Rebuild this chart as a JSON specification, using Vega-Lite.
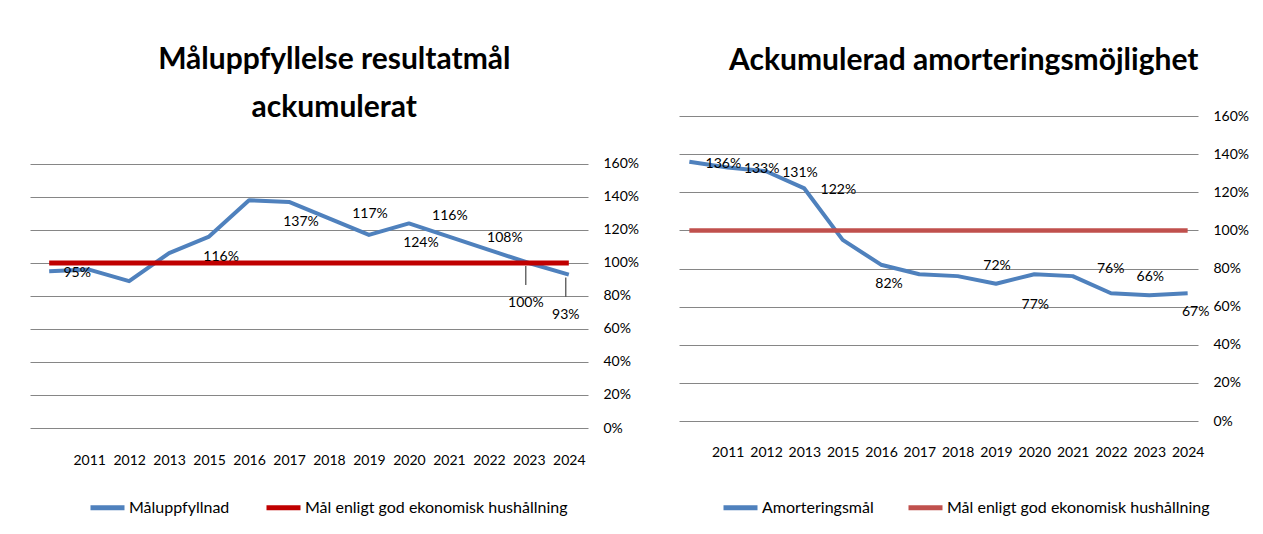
{
  "$schema": "https://vega.github.io/schema/vega-lite/v6.json",
  "background": "white",
  "padding": {"left": 30, "top": 45, "right": 0, "bottom": 0},
  "spacing": 40,
  "config": {
    "font": "Lato",
    "view": {"stroke": null},
    "axis": {"labelFont": "Lato", "labelFontSize": 14, "labelColor": "#000"},
    "legend": {"labelFont": "Lato", "labelFontSize": 16, "labelColor": "#000"},
    "title": {"font": "Lato", "fontWeight": "bold", "fontSize": 30, "color": "#000", "lineHeight": 48, "anchor": "middle", "frame": "bounds"},
    "text": {"font": "Lato", "fontSize": 14, "color": "#000"}
  },
  "resolve": {"scale": {"color": "independent", "x": "independent", "y": "independent"}, "legend": {"color": "independent"}},
  "datasets": {
    "left": [
      {"year": "2011", "series": "Måluppfyllnad", "value": 0.95},
      {"year": "2012", "series": "Måluppfyllnad", "value": 0.96},
      {"year": "2013", "series": "Måluppfyllnad", "value": 0.89},
      {"year": "2014", "series": "Måluppfyllnad", "value": 1.06},
      {"year": "2015", "series": "Måluppfyllnad", "value": 1.16},
      {"year": "2016", "series": "Måluppfyllnad", "value": 1.38},
      {"year": "2017", "series": "Måluppfyllnad", "value": 1.37},
      {"year": "2018", "series": "Måluppfyllnad", "value": 1.27},
      {"year": "2019", "series": "Måluppfyllnad", "value": 1.17},
      {"year": "2020", "series": "Måluppfyllnad", "value": 1.24},
      {"year": "2021", "series": "Måluppfyllnad", "value": 1.16},
      {"year": "2022", "series": "Måluppfyllnad", "value": 1.08},
      {"year": "2023", "series": "Måluppfyllnad", "value": 1.00},
      {"year": "2024", "series": "Måluppfyllnad", "value": 0.93},
      {"year": "2011", "series": "Mål enligt god ekonomisk hushållning", "value": 1.0},
      {"year": "2012", "series": "Mål enligt god ekonomisk hushållning", "value": 1.0},
      {"year": "2013", "series": "Mål enligt god ekonomisk hushållning", "value": 1.0},
      {"year": "2014", "series": "Mål enligt god ekonomisk hushållning", "value": 1.0},
      {"year": "2015", "series": "Mål enligt god ekonomisk hushållning", "value": 1.0},
      {"year": "2016", "series": "Mål enligt god ekonomisk hushållning", "value": 1.0},
      {"year": "2017", "series": "Mål enligt god ekonomisk hushållning", "value": 1.0},
      {"year": "2018", "series": "Mål enligt god ekonomisk hushållning", "value": 1.0},
      {"year": "2019", "series": "Mål enligt god ekonomisk hushållning", "value": 1.0},
      {"year": "2020", "series": "Mål enligt god ekonomisk hushållning", "value": 1.0},
      {"year": "2021", "series": "Mål enligt god ekonomisk hushållning", "value": 1.0},
      {"year": "2022", "series": "Mål enligt god ekonomisk hushållning", "value": 1.0},
      {"year": "2023", "series": "Mål enligt god ekonomisk hushållning", "value": 1.0},
      {"year": "2024", "series": "Mål enligt god ekonomisk hushållning", "value": 1.0}
    ],
    "right": [
      {"year": "2011", "series": "Amorteringsmål", "value": 1.36},
      {"year": "2012", "series": "Amorteringsmål", "value": 1.33},
      {"year": "2013", "series": "Amorteringsmål", "value": 1.31},
      {"year": "2014", "series": "Amorteringsmål", "value": 1.22},
      {"year": "2015", "series": "Amorteringsmål", "value": 0.95},
      {"year": "2016", "series": "Amorteringsmål", "value": 0.82},
      {"year": "2017", "series": "Amorteringsmål", "value": 0.77},
      {"year": "2018", "series": "Amorteringsmål", "value": 0.76},
      {"year": "2019", "series": "Amorteringsmål", "value": 0.72},
      {"year": "2020", "series": "Amorteringsmål", "value": 0.77},
      {"year": "2021", "series": "Amorteringsmål", "value": 0.76},
      {"year": "2022", "series": "Amorteringsmål", "value": 0.67},
      {"year": "2023", "series": "Amorteringsmål", "value": 0.66},
      {"year": "2024", "series": "Amorteringsmål", "value": 0.67},
      {"year": "2011", "series": "Mål enligt god ekonomisk hushållning", "value": 1.0},
      {"year": "2012", "series": "Mål enligt god ekonomisk hushållning", "value": 1.0},
      {"year": "2013", "series": "Mål enligt god ekonomisk hushållning", "value": 1.0},
      {"year": "2014", "series": "Mål enligt god ekonomisk hushållning", "value": 1.0},
      {"year": "2015", "series": "Mål enligt god ekonomisk hushållning", "value": 1.0},
      {"year": "2016", "series": "Mål enligt god ekonomisk hushållning", "value": 1.0},
      {"year": "2017", "series": "Mål enligt god ekonomisk hushållning", "value": 1.0},
      {"year": "2018", "series": "Mål enligt god ekonomisk hushållning", "value": 1.0},
      {"year": "2019", "series": "Mål enligt god ekonomisk hushållning", "value": 1.0},
      {"year": "2020", "series": "Mål enligt god ekonomisk hushållning", "value": 1.0},
      {"year": "2021", "series": "Mål enligt god ekonomisk hushållning", "value": 1.0},
      {"year": "2022", "series": "Mål enligt god ekonomisk hushållning", "value": 1.0},
      {"year": "2023", "series": "Mål enligt god ekonomisk hushållning", "value": 1.0},
      {"year": "2024", "series": "Mål enligt god ekonomisk hushållning", "value": 1.0}
    ]
  },
  "hconcat": [
    {
      "width": 558,
      "height": 312,
      "title": {"text": ["Måluppfyllelse resultatmål", "ackumulerat"], "offset": -7},
      "data": {"name": "left"},
      "encoding": {
        "x": {
          "field": "year", "type": "ordinal",
          "scale": {"type": "point", "padding": 0.48},
          "axis": {
            "title": null, "labelAngle": 0, "domain": false, "ticks": false, "labelPadding": 25,
            "values": ["2012", "2013", "2014", "2015", "2016", "2017", "2018", "2019", "2020", "2021", "2022", "2023", "2024"],
            "labelExpr": "datum.value == '2012' ? '2011' : datum.value == '2013' ? '2012' : datum.value == '2014' ? '2013' : datum.value"
          }
        },
        "y": {
          "field": "value", "type": "quantitative",
          "scale": {"domain": [0, 1.8909], "nice": false, "zero": true},
          "axis": {
            "orient": "right", "title": null, "values": [0, 0.2, 0.4, 0.6, 0.8, 1.0, 1.2, 1.4, 1.6],
            "format": ".0%", "grid": true, "gridColor": "#868686", "gridWidth": 1,
            "domain": false, "ticks": false, "labelPadding": 15
          }
        }
      },
      "layer": [
        {
          "transform": [{"filter": "datum.series == 'Måluppfyllnad'"}],
          "mark": {"type": "line", "strokeWidth": 4, "strokeJoin": "round"},
          "encoding": {
            "color": {
              "field": "series", "type": "nominal",
              "scale": {"domain": ["Måluppfyllnad", "Mål enligt god ekonomisk hushållning"], "range": ["#4F81BD", "#C00000"]},
              "legend": {"orient": "none", "legendX": 58, "legendY": 372, "direction": "horizontal", "title": null,
                "symbolType": "stroke", "symbolSize": 1156, "symbolStrokeWidth": 5, "labelOffset": 2, "columnPadding": 26, "labelLimit": 400}
            }
          }
        },
        {
          "transform": [{"filter": "datum.series != 'Måluppfyllnad'"}],
          "mark": {"type": "line", "strokeWidth": 5},
          "encoding": {"color": {"field": "series", "type": "nominal"}}
        },
        {
          "transform": [{"filter": "datum.series == 'Måluppfyllnad' && datum.year == '2011'"}],
          "mark": {"type": "text", "dx": 28, "dy": 2},
          "encoding": {"text": {"field": "value", "type": "quantitative", "format": ".0%"}}
        },
        {
          "transform": [{"filter": "datum.series == 'Måluppfyllnad' && indexof(['2015','2017','2020'], datum.year) >= 0"}],
          "mark": {"type": "text", "dx": 12, "dy": 20},
          "encoding": {"text": {"field": "value", "type": "quantitative", "format": ".0%"}}
        },
        {
          "transform": [{"filter": "datum.series == 'Måluppfyllnad' && indexof(['2019','2021'], datum.year) >= 0"}],
          "mark": {"type": "text", "dx": 1, "dy": -21},
          "encoding": {"text": {"field": "value", "type": "quantitative", "format": ".0%"}}
        },
        {
          "transform": [{"filter": "datum.series == 'Måluppfyllnad' && datum.year == '2022'"}],
          "mark": {"type": "text", "dx": 16, "dy": -12},
          "encoding": {"text": {"field": "value", "type": "quantitative", "format": ".0%"}}
        },
        {
          "transform": [{"filter": "datum.series == 'Måluppfyllnad' && indexof(['2023','2024'], datum.year) >= 0"}],
          "mark": {"type": "text", "dx": -3, "dy": 40},
          "encoding": {"text": {"field": "value", "type": "quantitative", "format": ".0%"}}
        },
        {
          "transform": [{"filter": "datum.series == 'Måluppfyllnad' && indexof(['2023','2024'], datum.year) >= 0"}],
          "mark": {"type": "rule", "color": "#222", "strokeWidth": 1, "xOffset": -3, "yOffset": 3, "y2Offset": 22},
          "encoding": {"y2": {"field": "value"}}
        }
      ]
    },
    {
      "width": 519,
      "height": 305,
      "title": {"text": "Ackumulerad amorteringsmöjlighet", "offset": 33},
      "data": {"name": "right"},
      "encoding": {
        "x": {
          "field": "year", "type": "ordinal",
          "scale": {"type": "point", "padding": 0.27},
          "axis": {
            "title": null, "labelAngle": 0, "domain": false, "ticks": false, "labelPadding": 24,
            "values": ["2012", "2013", "2014", "2015", "2016", "2017", "2018", "2019", "2020", "2021", "2022", "2023", "2024"],
            "labelExpr": "datum.value == '2012' ? '2011' : datum.value == '2013' ? '2012' : datum.value == '2014' ? '2013' : datum.value"
          }
        },
        "y": {
          "field": "value", "type": "quantitative",
          "scale": {"domain": [0, 1.6], "nice": false, "zero": true},
          "axis": {
            "orient": "right", "title": null, "values": [0, 0.2, 0.4, 0.6, 0.8, 1.0, 1.2, 1.4, 1.6],
            "format": ".0%", "grid": true, "gridColor": "#868686", "gridWidth": 1,
            "domain": false, "ticks": false, "labelPadding": 15
          }
        }
      },
      "layer": [
        {
          "transform": [{"filter": "datum.series == 'Amorteringsmål'"}],
          "mark": {"type": "line", "strokeWidth": 4, "strokeJoin": "round"},
          "encoding": {
            "color": {
              "field": "series", "type": "nominal",
              "scale": {"domain": ["Amorteringsmål", "Mål enligt god ekonomisk hushållning"], "range": ["#4F81BD", "#C0504D"]},
              "legend": {"orient": "none", "legendX": 42, "legendY": 372, "direction": "horizontal", "title": null,
                "symbolType": "stroke", "symbolSize": 1156, "symbolStrokeWidth": 5, "labelOffset": 2, "columnPadding": 24, "labelLimit": 400}
            }
          }
        },
        {
          "transform": [{"filter": "datum.series != 'Amorteringsmål'"}],
          "mark": {"type": "line", "strokeWidth": 4.5},
          "encoding": {"color": {"field": "series", "type": "nominal"}}
        },
        {
          "transform": [{"filter": "datum.series == 'Amorteringsmål' && indexof(['2011','2012','2013','2014'], datum.year) >= 0"}],
          "mark": {"type": "text", "dx": 34, "dy": 2},
          "encoding": {"text": {"field": "value", "type": "quantitative", "format": ".0%"}}
        },
        {
          "transform": [{"filter": "datum.series == 'Amorteringsmål' && datum.year == '2021'"}],
          "mark": {"type": "text", "dx": 38, "dy": -7},
          "encoding": {"text": {"field": "value", "type": "quantitative", "format": ".0%"}}
        },
        {
          "transform": [{"filter": "datum.series == 'Amorteringsmål' && indexof(['2016','2024'], datum.year) >= 0"}],
          "mark": {"type": "text", "dx": 8, "dy": 19},
          "encoding": {"text": {"field": "value", "type": "quantitative", "format": ".0%"}}
        },
        {
          "transform": [{"filter": "datum.series == 'Amorteringsmål' && datum.year == '2020'"}],
          "mark": {"type": "text", "dx": 1, "dy": 31},
          "encoding": {"text": {"field": "value", "type": "quantitative", "format": ".0%"}}
        },
        {
          "transform": [{"filter": "datum.series == 'Amorteringsmål' && indexof(['2019','2023'], datum.year) >= 0"}],
          "mark": {"type": "text", "dx": 1, "dy": -18},
          "encoding": {"text": {"field": "value", "type": "quantitative", "format": ".0%"}}
        }
      ]
    }
  ]
}
